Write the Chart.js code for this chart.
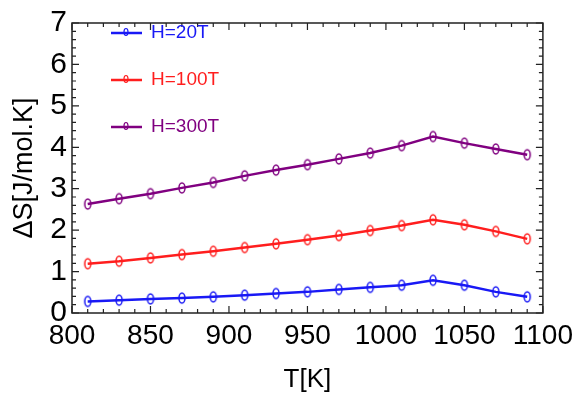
<!DOCTYPE html>
<html>
<head>
<meta charset="utf-8">
<script src="https://cdn.jsdelivr.net/npm/chart.js@4"></script>
<style>
  html, body { margin: 0; padding: 0; background: #fff; }
  #wrap { width: 579px; height: 395px; }
</style>
</head>
<body>
<div id="wrap"><canvas id="chart_entropy" width="579" height="395"></canvas></div>
<script>
var temps = [810, 830, 850, 870, 890, 910, 930, 950, 970, 990, 1010, 1030, 1050, 1070, 1090];
var ds_20 = [0.28, 0.31, 0.34, 0.36, 0.39, 0.43, 0.47, 0.51, 0.57, 0.62, 0.67, 0.79, 0.67, 0.51, 0.39];
var ds_100 = [1.19, 1.25, 1.33, 1.41, 1.49, 1.58, 1.67, 1.77, 1.87, 1.99, 2.11, 2.25, 2.13, 1.97, 1.79];
var ds_300 = [2.63, 2.76, 2.88, 3.02, 3.15, 3.31, 3.45, 3.58, 3.72, 3.86, 4.04, 4.26, 4.10, 3.96, 3.82];
var series_names = ['H=20T', 'H=100T', 'H=300T'];
var colors = ['rgb(25,25,245)', 'rgb(255,30,30)', 'rgb(128,0,128)'];
var font_face = '"Liberation Sans", Arial, sans-serif';

// open ellipse marker, like the "0" shaped points of the original
function make_marker(color, rx, ry) {
  var c = document.createElement('canvas');
  c.width = rx * 2 + 4;
  c.height = ry * 2 + 4;
  var g = c.getContext('2d');
  g.strokeStyle = color;
  g.lineWidth = 1.5;
  g.beginPath();
  g.ellipse(c.width / 2, c.height / 2, rx, ry, 0, 0, Math.PI * 2);
  g.stroke();
  return c;
}

function to_points(vals) {
  return vals.map(function (v, i) { return {x: temps[i], y: v}; });
}

var all_vals = [ds_20, ds_100, ds_300];
var datasets = all_vals.map(function (vals, i) {
  return {
    label: series_names[i],
    data: to_points(vals),
    borderColor: colors[i],
    backgroundColor: colors[i],
    borderWidth: 2.5,
    pointStyle: make_marker(colors[i], 3, 5),
    pointRadius: 5,
    tension: 0
  };
});

// frame + inward ticks on all four sides, and the in-plot legend
var framePlugin = {
  id: 'frame',
  afterDraw: function (chart) {
    var ctx = chart.ctx;
    var a = chart.chartArea;
    var xs = chart.scales.x, ys = chart.scales.y;
    ctx.save();
    ctx.strokeStyle = '#222';
    ctx.lineWidth = 1.5;
    ctx.strokeRect(a.left, a.top, a.right - a.left, a.bottom - a.top);
    ctx.lineWidth = 1.2;
    ctx.beginPath();
    var v, p, len;
    for (v = 800; v <= 1100; v += 10) {
      p = xs.getPixelForValue(v);
      len = (v % 50 === 0) ? 7 : 4;
      ctx.moveTo(p, a.bottom); ctx.lineTo(p, a.bottom - len);
      ctx.moveTo(p, a.top); ctx.lineTo(p, a.top + len);
    }
    for (v = 0; v <= 35; v++) {
      p = ys.getPixelForValue(v / 5);
      len = (v % 5 === 0) ? 7 : 4;
      ctx.moveTo(a.left, p); ctx.lineTo(a.left + len, p);
      ctx.moveTo(a.right, p); ctx.lineTo(a.right - len, p);
    }
    ctx.stroke();

    // legend
    ctx.font = '19px ' + font_face;
    ctx.textBaseline = 'middle';
    chart.data.datasets.forEach(function (d, i) {
      var y = 33 + i * 47;
      ctx.strokeStyle = d.borderColor;
      ctx.lineWidth = 2.5;
      ctx.beginPath();
      ctx.moveTo(111, y); ctx.lineTo(142, y);
      ctx.stroke();
      ctx.lineWidth = 1.2;
      ctx.beginPath();
      ctx.ellipse(126, y - 1, 2, 3.5, 0, 0, Math.PI * 2);
      ctx.stroke();
      ctx.fillStyle = d.borderColor;
      ctx.fillText(d.label, 151, y);
    });
    ctx.restore();
  }
};

function plain(value) { return String(value); }

var ctx = document.getElementById('chart_entropy').getContext('2d');
var chart = new Chart(ctx, {
  type: 'line',
  data: { datasets: datasets },
  options: {
    responsive: false,
    animation: false,
    layout: { padding: { top: 21, right: 33, left: 0, bottom: 0 } },
    plugins: { legend: { display: false }, tooltip: { enabled: false } },
    scales: {
      x: {
        type: 'linear',
        min: 800,
        max: 1100,
        afterFit: function (s) { s.height = 82; },
        grid: { display: false, drawTicks: false },
        border: { display: false },
        ticks: {
          stepSize: 50,
          padding: 6,
          maxRotation: 0,
          color: '#000',
          callback: plain,
          font: { family: font_face, size: 28 }
        },
        title: {
          display: true,
          text: 'T[K]',
          color: '#000',
          padding: 0,
          font: { family: font_face, size: 26 }
        }
      },
      y: {
        min: 0,
        max: 7,
        afterFit: function (s) { s.width = 72; },
        grid: { display: false, drawTicks: false },
        border: { display: false },
        ticks: {
          stepSize: 1,
          padding: 5,
          color: '#000',
          callback: plain,
          font: { family: font_face, size: 30 }
        },
        title: {
          display: true,
          text: '\u0394S[J/mol.K]',
          color: '#000',
          padding: 8,
          font: { family: font_face, size: 27 }
        }
      }
    }
  },
  plugins: [framePlugin]
});
</script>
</body>
</html>
